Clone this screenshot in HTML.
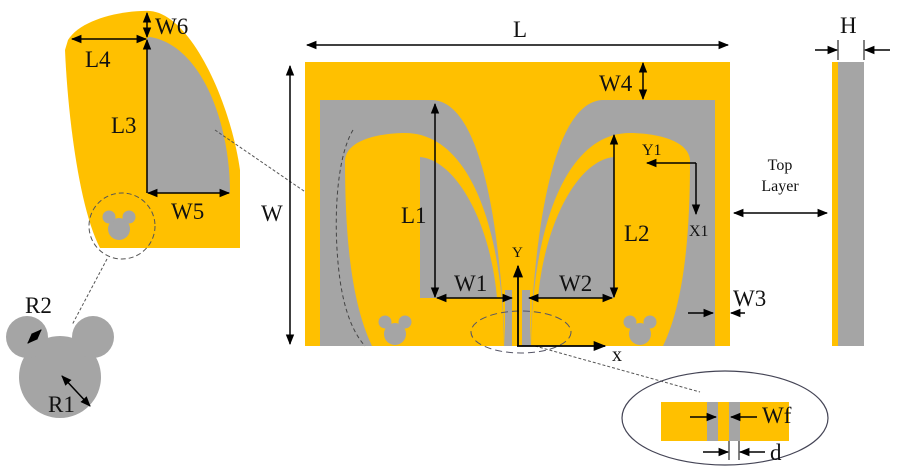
<!DOCTYPE html>
<html><head><meta charset="utf-8"><style>
html,body{margin:0;padding:0;background:#fff;}
svg{display:block;}
text{font-family:"Liberation Serif",serif;fill:#111;}
</style></head><body>
<svg width="900" height="473" viewBox="0 0 900 473" xmlns="http://www.w3.org/2000/svg">
<defs>
<marker id="a" viewBox="0 0 10 10" refX="9" refY="5" markerWidth="7" markerHeight="7" orient="auto-start-reverse"><path d="M0,1 L10,5 L0,9 Z" fill="#000"/></marker>
<g id="mouse"><circle cx="0" cy="5" r="11"/><circle cx="-10" cy="-7" r="6.5"/><circle cx="10" cy="-7" r="6.5"/></g>
</defs>
<!-- left inset -->
<path d="M68,40 C80,20 120,10 150,11 C190,14 230,100 240,170 L240,248 L100,248 C80,210 68,120 65,50 Z" fill="#FFC000"/>
<path d="M147,38 L147,193 L230,193 C230,120 200,45 150,37 Z" fill="#A5A5A5"/>
<use href="#mouse" x="119" y="224" fill="#A5A5A5"/>
<circle cx="122" cy="226" r="33" fill="none" stroke="#555" stroke-width="1" stroke-dasharray="5,3"/>
<line x1="107" y1="259" x2="72" y2="325" stroke="#555" stroke-dasharray="3,2"/>
<line x1="215" y1="130" x2="336" y2="213" stroke="#555" stroke-dasharray="3,2"/>
<!-- big mouse -->
<g fill="#A5A5A5"><circle cx="60" cy="377" r="41"/><circle cx="27" cy="337" r="21"/><circle cx="93" cy="337" r="21"/></g>
<line x1="28" y1="343" x2="41" y2="330" stroke="#000" stroke-width="1.5" marker-start="url(#a)" marker-end="url(#a)"/>
<line x1="62" y1="376" x2="90" y2="406" stroke="#000" stroke-width="1.5" marker-start="url(#a)" marker-end="url(#a)"/>
<text x="25" y="313" font-size="23">R2</text>
<text x="48" y="412" font-size="23">R1</text>
<!-- inset dims -->
<line x1="72" y1="39" x2="146" y2="39" stroke="#000" stroke-width="1.5" marker-start="url(#a)" marker-end="url(#a)"/>
<line x1="147" y1="13" x2="147" y2="37" stroke="#000" stroke-width="1.5" marker-start="url(#a)" marker-end="url(#a)"/>
<line x1="147" y1="40" x2="147" y2="193" stroke="#000" stroke-width="1.5" marker-start="url(#a)"/>
<line x1="148" y1="193" x2="229" y2="193" stroke="#000" stroke-width="1.5" marker-start="url(#a)" marker-end="url(#a)"/>
<text x="155" y="34" font-size="23">W6</text>
<text x="85" y="67" font-size="23">L4</text>
<text x="111" y="133" font-size="23">L3</text>
<text x="171" y="219" font-size="23">W5</text>
<!-- main board -->
<rect x="305" y="62" width="425" height="284" fill="#FFC000"/>
<path d="M320,100 L433,100 C480,103 500,220 505,346 L320,346 Z" fill="#A5A5A5"/>
<path d="M715,100 L602,100 C555,103 535,220 530,346 L715,346 Z" fill="#A5A5A5"/>
<path d="M372,346 C350,300 345,230 345,160 C347,138 385,133 405,133 C470,133 503,230 504,346 Z" fill="#FFC000"/>
<path d="M663,346 C685,300 690,230 690,160 C688,138 650,133 630,133 C565,133 532,230 531,346 Z" fill="#FFC000"/>
<path d="M420,157 L420,298 L497,298 C490,220 455,160 420,157 Z" fill="#A5A5A5"/>
<path d="M614,157 L614,298 L538,298 C545,220 579,160 614,157 Z" fill="#A5A5A5"/>
<rect x="505" y="290" width="7" height="56" fill="#A5A5A5"/>
<rect x="522" y="290" width="8" height="56" fill="#A5A5A5"/>
<use href="#mouse" x="395" y="329" fill="#A5A5A5"/>
<use href="#mouse" x="640" y="329" fill="#A5A5A5"/>
<path d="M353,130 C335,160 333,230 340,280 C345,315 355,335 365,346" fill="none" stroke="#444" stroke-dasharray="4,3"/>
<ellipse cx="521" cy="332" rx="50" ry="21" fill="none" stroke="#556" stroke-dasharray="7,4"/>
<line x1="535" y1="346" x2="700" y2="392" stroke="#555" stroke-dasharray="3,2"/>
<!-- main dims -->
<line x1="307" y1="45" x2="728" y2="45" stroke="#000" stroke-width="1.5" marker-start="url(#a)" marker-end="url(#a)"/>
<text x="513" y="37" font-size="23">L</text>
<line x1="290" y1="66" x2="290" y2="344" stroke="#000" stroke-width="1.5" marker-start="url(#a)" marker-end="url(#a)"/>
<text x="261" y="221" font-size="23">W</text>
<line x1="643" y1="63" x2="643" y2="99" stroke="#000" stroke-width="1.5" marker-start="url(#a)" marker-end="url(#a)"/>
<text x="599" y="91" font-size="23">W4</text>
<line x1="435" y1="104" x2="435" y2="297" stroke="#000" stroke-width="1.5" marker-start="url(#a)" marker-end="url(#a)"/>
<text x="401" y="223" font-size="23">L1</text>
<line x1="437" y1="298" x2="512" y2="298" stroke="#000" stroke-width="1.5" marker-start="url(#a)" marker-end="url(#a)"/>
<text x="454" y="291" font-size="23">W1</text>
<line x1="529" y1="298" x2="612" y2="298" stroke="#000" stroke-width="1.5" marker-start="url(#a)" marker-end="url(#a)"/>
<text x="559" y="291" font-size="23">W2</text>
<line x1="614" y1="135" x2="614" y2="297" stroke="#000" stroke-width="1.5" marker-start="url(#a)" marker-end="url(#a)"/>
<text x="624" y="241" font-size="23">L2</text>
<path d="M696,163 L647,163" stroke="#000" stroke-width="1.5" marker-end="url(#a)" fill="none"/>
<path d="M696,163 L696,214" stroke="#000" stroke-width="1.5" marker-end="url(#a)" fill="none"/>
<text x="642" y="155" font-size="16">Y1</text>
<text x="689" y="236" font-size="16">X1</text>
<line x1="518" y1="346" x2="518" y2="266" stroke="#000" stroke-width="1.8" marker-end="url(#a)"/>
<line x1="517" y1="346" x2="605" y2="346" stroke="#000" stroke-width="1.8" marker-end="url(#a)"/>
<text x="512" y="257" font-size="15">Y</text>
<text x="612" y="361" font-size="20">x</text>
<line x1="688" y1="313" x2="713" y2="313" stroke="#000" stroke-width="1.5" marker-end="url(#a)"/>
<line x1="745" y1="313" x2="731" y2="313" stroke="#000" stroke-width="1.5" marker-end="url(#a)"/>
<text x="733" y="306" font-size="23">W3</text>
<!-- side view -->
<rect x="832" y="62" width="6" height="284" fill="#FFC000"/>
<rect x="838" y="62" width="26" height="284" fill="#A5A5A5"/>
<line x1="815" y1="50" x2="837" y2="50" stroke="#000" stroke-width="1.5" marker-end="url(#a)"/>
<line x1="890" y1="50" x2="865" y2="50" stroke="#000" stroke-width="1.5" marker-end="url(#a)"/>
<line x1="838" y1="40" x2="838" y2="60" stroke="#000"/>
<line x1="864" y1="40" x2="864" y2="60" stroke="#000"/>
<text x="840" y="33" font-size="23">H</text>
<text x="780" y="170" font-size="16" text-anchor="middle">Top</text>
<text x="780" y="191" font-size="16" text-anchor="middle">Layer</text>
<line x1="734" y1="213" x2="827" y2="213" stroke="#000" stroke-width="1.5" marker-start="url(#a)" marker-end="url(#a)"/>
<!-- zoomed feed -->
<ellipse cx="725" cy="418" rx="103" ry="47" fill="none" stroke="#445" stroke-width="1.2"/>
<rect x="661" y="402" width="128" height="39" fill="#FFC000"/>
<rect x="707" y="402" width="11" height="39" fill="#A5A5A5"/>
<rect x="729" y="402" width="11" height="39" fill="#A5A5A5"/>
<line x1="690" y1="417" x2="716" y2="417" stroke="#000" stroke-width="1.5" marker-end="url(#a)"/>
<line x1="757" y1="417" x2="731" y2="417" stroke="#000" stroke-width="1.5" marker-end="url(#a)"/>
<text x="762" y="423" font-size="23">Wf</text>
<line x1="729" y1="441" x2="729" y2="460" stroke="#000"/>
<line x1="739" y1="441" x2="739" y2="460" stroke="#000"/>
<line x1="703" y1="452" x2="728" y2="452" stroke="#000" stroke-width="1.5" marker-end="url(#a)"/>
<line x1="765" y1="452" x2="740" y2="452" stroke="#000" stroke-width="1.5" marker-end="url(#a)"/>
<text x="770" y="460" font-size="23">d</text>
</svg>
</body></html>
